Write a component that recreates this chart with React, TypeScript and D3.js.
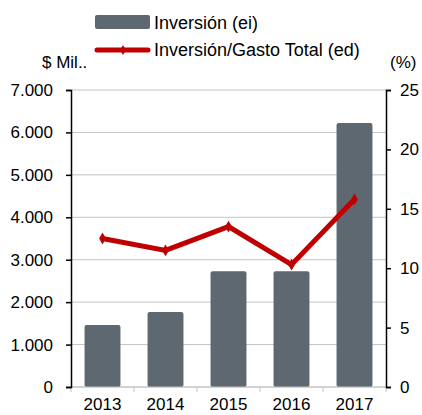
import React, { useEffect, useRef } from "react";
import * as d3 from "d3";

const years = ["2013", "2014", "2015", "2016", "2017"];
const inversion = [1460, 1770, 2730, 2730, 6220];
const ratio = [12.5, 11.5, 13.5, 10.3, 15.8];
const leftTicks = [0, 1000, 2000, 3000, 4000, 5000, 6000, 7000];
const rightTicks = [0, 5, 10, 15, 20, 25];

export default function App() {
  const svgRef = useRef<SVGSVGElement>(null);

  useEffect(() => {
    const svg = d3.select(svgRef.current);
    svg.selectAll("*").remove();

    const margin = { top: 90, right: 36, bottom: 28, left: 71 };
    const width = 422;
    const height = 415;
    const w = width - margin.left - margin.right;
    const h = height - margin.top - margin.bottom;
    const font = "Liberation Sans, Arial, sans-serif";

    const x = d3.scaleBand().domain(years).range([0, w]).paddingInner(0.43).paddingOuter(0.215);
    const y = d3.scaleLinear().domain([0, 7000]).range([h, 0]);
    const y2 = d3.scaleLinear().domain([0, 25]).range([h, 0]);

    const g = svg.append("g").attr("transform", `translate(${margin.left},${margin.top})`);

    // gridlines
    g.append("g")
      .selectAll("line")
      .data(leftTicks)
      .join("line")
      .attr("x1", 0)
      .attr("x2", w)
      .attr("y1", (d) => y(d))
      .attr("y2", (d) => y(d))
      .attr("stroke", "#c4c4c4")
      .attr("stroke-width", 1);

    // bars
    g.append("g")
      .selectAll("rect")
      .data(inversion)
      .join("rect")
      .attr("x", (_, i) => x(years[i])!)
      .attr("y", (d) => y(d))
      .attr("width", x.bandwidth())
      .attr("height", (d) => h - y(d))
      .attr("rx", 2)
      .attr("fill", "#5d6870");

    // x axis (category separators)
    const step = x.step();
    const xAxis = g.append("g").attr("transform", `translate(0,${h})`);
    xAxis.append("line").attr("x1", 0).attr("x2", w).attr("stroke", "#c4c4c4");
    xAxis
      .selectAll("line.tick")
      .data(d3.range(years.length + 1))
      .join("line")
      .attr("class", "tick")
      .attr("x1", (i) => i * step)
      .attr("x2", (i) => i * step)
      .attr("y1", 0)
      .attr("y2", 5)
      .attr("stroke", "#c4c4c4");
    xAxis
      .selectAll("text")
      .data(years)
      .join("text")
      .attr("x", (d) => x(d)! + x.bandwidth() / 2)
      .attr("y", 23)
      .attr("text-anchor", "middle")
      .attr("font-family", font)
      .attr("font-size", 17)
      .attr("fill", "#000")
      .text((d) => d);

    // left axis
    const yAxis = g
      .append("g")
      .call(d3.axisLeft(y).tickValues(leftTicks).tickSize(5).tickFormat((d) => d3.format(",")(d as number).replace(/,/g, ".")));
    yAxis.select(".domain").attr("stroke", "#000").attr("stroke-width", 1.5);
    yAxis.selectAll(".tick line").attr("stroke", "#000").attr("stroke-width", 1.5);
    yAxis.selectAll(".tick text").attr("font-family", font).attr("font-size", 17).attr("fill", "#000").attr("x", -18);

    // right axis
    const yAxis2 = g
      .append("g")
      .attr("transform", `translate(${w},0)`)
      .call(d3.axisRight(y2).tickValues(rightTicks).tickSize(5));
    yAxis2.select(".domain").attr("stroke", "#000").attr("stroke-width", 1.5);
    yAxis2.selectAll(".tick line").attr("stroke", "#000").attr("stroke-width", 1.5);
    yAxis2.selectAll(".tick text").attr("font-family", font).attr("font-size", 17).attr("fill", "#000").attr("x", 14);

    // line
    const line = d3
      .line<number>()
      .x((_, i) => x(years[i])! + x.bandwidth() / 2)
      .y((d) => y2(d));
    g.append("path")
      .datum(ratio)
      .attr("fill", "none")
      .attr("stroke", "#c00000")
      .attr("stroke-width", 5)
      .attr("stroke-linejoin", "miter")
      .attr("d", line);
    g.append("g")
      .selectAll("path")
      .data(ratio)
      .join("path")
      .attr("d", d3.symbol(d3.symbolDiamond, 40)())
      .attr("transform", (d, i) => `translate(${x(years[i])! + x.bandwidth() / 2},${y2(d)})`)
      .attr("fill", "#c00000");

    // axis titles
    svg.append("text").attr("x", 42).attr("y", 68).attr("font-family", font).attr("font-size", 17).text("$ Mil..");
    svg.append("text").attr("x", 390).attr("y", 68).attr("font-family", font).attr("font-size", 17).text("(%)");

    // legend
    const lg = svg.append("g");
    lg.append("rect").attr("x", 95).attr("y", 15).attr("width", 55).attr("height", 14).attr("rx", 2).attr("fill", "#5d6870");
    lg.append("text").attr("x", 154).attr("y", 29).attr("font-family", font).attr("font-size", 18).text("Inversión (ei)");
    lg.append("line").attr("x1", 97).attr("x2", 148).attr("y1", 50).attr("y2", 50).attr("stroke", "#c00000").attr("stroke-width", 5).attr("stroke-linecap", "round");
    lg.append("path").attr("d", d3.symbol(d3.symbolDiamond, 30)()).attr("transform", "translate(123,50)").attr("fill", "#c00000");
    lg.append("text").attr("x", 154).attr("y", 56).attr("font-family", font).attr("font-size", 18).text("Inversión/Gasto Total (ed)");
  }, []);

  return (
    <svg
      ref={svgRef}
      width={422}
      height={415}
      style={{ position: "absolute", left: 0, top: 0, background: "white" }}
    />
  );
}
